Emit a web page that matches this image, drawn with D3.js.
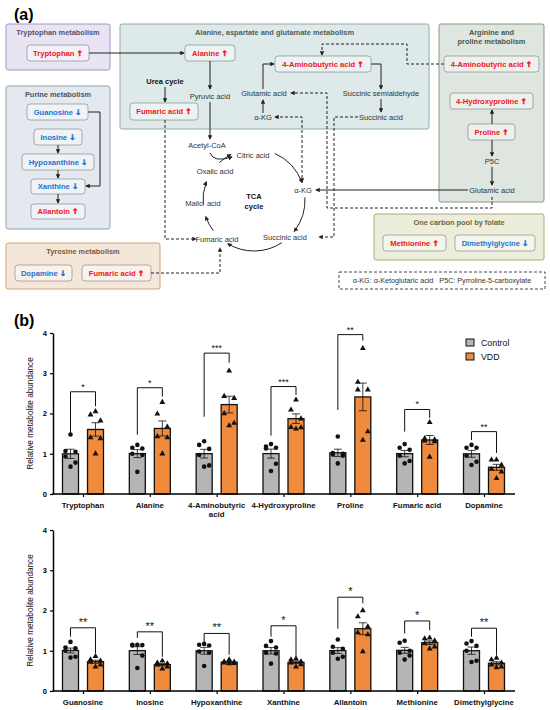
<!DOCTYPE html>
<html>
<head>
<meta charset="utf-8">
<script src="https://cdn.jsdelivr.net/npm/d3@7"></script>
<style>
body { margin: 0; background: #fff; }
text { font-family: "Liberation Sans", Arial, sans-serif; }
</style>
</head>
<body>
<svg id="fig" width="550" height="710"></svg>
<script>
// ---- panel (b) data: six animals per group ----
var categoriesTop = ["Tryptophan", "Alanine", "4-Aminobutyric acid", "4-Hydroxyproline", "Proline", "Fumaric acid", "Dopamine"];
var controlTop = [
  [1.48, 1.07, 1.05, 0.93, 0.78, 0.68],
  [1.22, 1.15, 1.13, 1.00, 0.97, 0.55],
  [1.31, 1.22, 1.12, 0.97, 0.71, 0.68],
  [1.24, 1.18, 1.15, 1.13, 0.75, 0.57],
  [1.43, 1.02, 1.00, 0.98, 0.95, 0.76],
  [1.24, 1.15, 1.10, 0.95, 0.82, 0.76],
  [1.22, 1.15, 1.15, 0.95, 0.80, 0.72]
];
var vddTop = [
  [2.05, 1.97, 1.82, 1.40, 1.38, 1.00],
  [2.28, 1.99, 1.67, 1.43, 1.40, 1.00],
  [3.06, 2.43, 2.38, 2.00, 1.76, 1.70],
  [2.34, 2.09, 1.87, 1.66, 1.65, 1.62],
  [3.62, 2.78, 2.59, 2.59, 1.55, 1.34],
  [1.78, 1.38, 1.35, 1.32, 1.30, 0.92],
  [0.85, 0.85, 0.72, 0.62, 0.55, 0.39]
];
var sigTop = ["*", "*", "***", "***", "**", "*", "**"];
// bracket: left foot, top, right foot (in data units)
var bracketTop = [
  [1.47, 2.54, 2.18], [1.47, 2.64, 2.42], [1.92, 3.50, 3.26], [1.45, 2.67, 2.46],
  [2.09, 3.96, 3.81], [1.55, 2.10, 1.89], [1.34, 1.55, 1.02]
];

var categoriesBot = ["Guanosine", "Inosine", "Hypoxanthine", "Xanthine", "Allantoin", "Methionine", "Dimethylglycine"];
var controlBot = [
  [1.22, 1.08, 1.06, 1.00, 0.85, 0.83],
  [1.15, 1.15, 1.14, 1.13, 0.88, 0.57],
  [1.17, 1.15, 1.13, 0.98, 0.95, 0.62],
  [1.24, 1.12, 1.08, 0.95, 0.93, 0.68],
  [1.28, 1.10, 1.05, 0.95, 0.85, 0.80],
  [1.25, 1.20, 1.00, 0.95, 0.88, 0.78],
  [1.24, 1.18, 1.12, 1.00, 0.75, 0.72]
];
var vddBot = [
  [0.86, 0.78, 0.75, 0.72, 0.65, 0.60],
  [0.75, 0.70, 0.68, 0.65, 0.60, 0.55],
  [0.78, 0.73, 0.72, 0.70, 0.69, 0.68],
  [0.80, 0.78, 0.73, 0.70, 0.66, 0.60],
  [2.00, 1.85, 1.60, 1.45, 1.40, 0.98],
  [1.32, 1.30, 1.25, 1.18, 1.10, 1.05],
  [0.82, 0.78, 0.70, 0.65, 0.60, 0.58]
];
var sigBot = ["**", "**", "**", "*", "*", "*", "**"];
var bracketBot = [
  [1.35, 1.57, 0.94], [1.32, 1.47, 0.85], [1.22, 1.43, 0.90], [1.35, 1.62, 0.85],
  [1.55, 2.33, 2.18], [1.43, 1.74, 1.51], [1.35, 1.56, 0.90]
];
var yTicks = [0, 1, 2, 3, 4];
var groups = ["Control", "VDD"];

// ---- panel (a) layout ----
var panels = [
  {x: 6, y: 24, w: 104, h: 46, fill: "#e9e4f3", stroke: "#a197c4", tc: "#57516f", title: ["Tryptophan metabolism"]},
  {x: 120, y: 24, w: 309, h: 105, fill: "#dee9e9", stroke: "#93aaaa", tc: "#4a6262", title: ["Alanine, aspartate and glutamate metabolism"]},
  {x: 6, y: 86, w: 104, h: 143, fill: "#e3e9ee", stroke: "#95a3ad", tc: "#4c5660", title: ["Purine metabolism"]},
  {x: 439, y: 24, w: 105, h: 178, fill: "#dfe6df", stroke: "#899889", tc: "#4b584b", title: ["Arginine and", "proline metabolism"]},
  {x: 374, y: 214, w: 170, h: 46, fill: "#ecedda", stroke: "#a9aa7c", tc: "#6a6b38", title: ["One carbon pool by folate"]},
  {x: 6, y: 243, w: 154, h: 46, fill: "#f4e6d9", stroke: "#cba583", tc: "#7b5b41", title: ["Tyrosine metabolism"]}
];
var metabolites = [
  {x: 27, y: 45, w: 62, h: 16, name: "Tryptophan", up: true},
  {x: 185, y: 45, w: 50, h: 16, name: "Alanine", up: true},
  {x: 130, y: 103, w: 68, h: 17, name: "Fumaric acid", up: true},
  {x: 275, y: 56, w: 96, h: 16, name: "4-Aminobutyric acid", up: true},
  {x: 444, y: 56, w: 95, h: 16, name: "4-Aminobutyric acid", up: true},
  {x: 450, y: 93, w: 83, h: 16, name: "4-Hydroxyproline", up: true},
  {x: 468, y: 124, w: 47, h: 16, name: "Proline", up: true},
  {x: 27, y: 104, w: 61, h: 16, name: "Guanosine", up: false},
  {x: 34, y: 129, w: 48, h: 16, name: "Inosine", up: false},
  {x: 22, y: 154, w: 72, h: 16, name: "Hypoxanthine", up: false},
  {x: 31, y: 179, w: 54, h: 15, name: "Xanthine", up: false},
  {x: 31, y: 204, w: 54, h: 15, name: "Allantoin", up: true},
  {x: 383, y: 235, w: 63, h: 16, name: "Methionine", up: true},
  {x: 455, y: 235, w: 80, h: 16, name: "Dimethylglycine", up: false},
  {x: 15, y: 265, w: 57, h: 16, name: "Dopamine", up: false},
  {x: 82, y: 265, w: 69, h: 16, name: "Fumaric acid", up: true}
];
var labels = [
  {x: 165, y: 84, t: "Urea cycle", b: true},
  {x: 210, y: 99, t: "Pyruvic acid"},
  {x: 264, y: 96, t: "Glutamic acid"},
  {x: 263, y: 120, t: "α-KG"},
  {x: 381, y: 96, t: "Succinic semialdehyde"},
  {x: 381, y: 120, t: "Succinic acid"},
  {x: 207, y: 148, t: "Acetyl-CoA"},
  {x: 253, y: 158, t: "Citric acid"},
  {x: 215, y: 174, t: "Oxalic acid"},
  {x: 203, y: 206, t: "Malic  acid"},
  {x: 303, y: 193, t: "α-KG"},
  {x: 285, y: 240, t: "Succinic acid"},
  {x: 217, y: 242, t: "Fumaric acid"},
  {x: 254, y: 199, t: "TCA", b: true},
  {x: 254, y: 209, t: "cycle", b: true},
  {x: 492, y: 164, t: "P5C"},
  {x: 492, y: 193, t: "Glutamic acid"}
];
var solidLinks = [
  [[89, 53], [184, 53]],
  [[210, 61], [210, 89]],
  [[210, 102], [210, 139]],
  [[165, 87], [165, 102]],
  [[263, 89], [263, 64], [274, 64]],
  [[263, 113], [263, 100]],
  [[371, 64], [381, 64], [381, 89]],
  [[381, 99], [381, 112]],
  [[88, 112], [100, 112], [100, 186], [86, 186]],
  [[58, 145], [58, 153]],
  [[58, 170], [58, 178]],
  [[58, 194], [58, 203]],
  [[492, 124], [492, 110]],
  [[492, 140], [492, 156]],
  [[492, 167], [492, 185]],
  [[468, 190], [316, 190]]
];
var dashedLinks = [
  {p: [[165, 120], [165, 239], [196, 239]]},
  {p: [[444, 64], [407, 64], [407, 44], [322, 44], [322, 55]]},
  {p: [[492, 197], [492, 208], [327, 208], [327, 93], [291, 93]]},
  {p: [[275, 117], [302, 117], [302, 182]], both: true},
  {p: [[358, 117], [334, 117], [334, 237], [319, 237]]},
  {p: [[151, 273], [220, 273], [220, 248]]}
];
// TCA cycle arcs, degrees on a circle
var tcaArcs = [[-66, -20], [-3, 38], [57, 121], [143, 161], [174, 201], [227, 243]];

var svg = d3.select("#fig");
var defs = svg.append("defs");
defs.append("marker").attr("id", "arr")
  .attr("viewBox", "0 0 6 6").attr("refX", 5).attr("refY", 3)
  .attr("markerWidth", 4.5).attr("markerHeight", 4.5)
  .attr("orient", "auto-start-reverse")
  .append("path").attr("d", "M0,0L6,3L0,6z").attr("fill", "#222");

// ================= panel (a) =================
svg.append("text").attr("x", 14).attr("y", 20).attr("font-size", 16).attr("font-weight", "bold").text("(a)");

var gA = svg.append("g");
panels.forEach(function(p) {
  gA.append("rect").attr("x", p.x).attr("y", p.y).attr("width", p.w).attr("height", p.h)
    .attr("rx", 2).attr("fill", p.fill).attr("stroke", p.stroke).attr("stroke-width", 1);
  p.title.forEach(function(t, i) {
    gA.append("text").attr("x", p.x + p.w / 2).attr("y", p.y + 11 + i * 9)
      .attr("text-anchor", "middle").attr("font-size", 7.4).attr("font-weight", "bold")
      .attr("fill", p.tc).text(t);
  });
});

// abbreviation box
gA.append("rect").attr("x", 339).attr("y", 272).attr("width", 206).attr("height", 17)
  .attr("fill", "none").attr("stroke", "#333").attr("stroke-dasharray", "3,2").attr("stroke-width", 0.9);
gA.append("text").attr("x", 442).attr("y", 283).attr("text-anchor", "middle")
  .attr("font-size", 7.2).attr("fill", "#333").style("white-space", "pre")
  .text("α-KG: α-Ketoglutaric acid   P5C: Pyrroline-5-carboxylate");

var line = d3.line();
solidLinks.forEach(function(p) {
  gA.append("path").attr("d", line(p)).attr("fill", "none").attr("stroke", "#222")
    .attr("stroke-width", 1).attr("marker-end", "url(#arr)");
});
dashedLinks.forEach(function(l) {
  var path = gA.append("path").attr("d", line(l.p)).attr("fill", "none").attr("stroke", "#222")
    .attr("stroke-width", 1).attr("stroke-dasharray", "3,2").attr("marker-end", "url(#arr)");
  if (l.both) path.attr("marker-start", "url(#arr)");
});

// TCA cycle
var cx = 254, cy = 200, r = 51;
tcaArcs.forEach(function(a) {
  var a0 = a[0] * Math.PI / 180, a1 = a[1] * Math.PI / 180;
  var d = "M" + (cx + r * Math.cos(a0)) + "," + (cy + r * Math.sin(a0)) +
    " A" + r + "," + r + " 0 0 1 " + (cx + r * Math.cos(a1)) + "," + (cy + r * Math.sin(a1));
  gA.append("path").attr("d", d).attr("fill", "none").attr("stroke", "#222")
    .attr("stroke-width", 1).attr("marker-end", "url(#arr)");
});
gA.append("path").attr("d", "M210,153 Q214,163 232,157").attr("fill", "none").attr("stroke", "#222")
  .attr("stroke-width", 1).attr("marker-end", "url(#arr)");

metabolites.forEach(function(m) {
  gA.append("rect").attr("x", m.x).attr("y", m.y).attr("width", m.w).attr("height", m.h)
    .attr("rx", 3).attr("fill", "rgba(255,255,255,0.45)").attr("stroke", "rgba(60,70,80,0.45)").attr("stroke-width", 0.9);
  var t = gA.append("text").attr("x", m.x + m.w / 2).attr("y", m.y + m.h / 2 + 2.7)
    .attr("text-anchor", "middle").attr("font-size", 7.6).attr("font-weight", "bold")
    .attr("fill", m.up ? "#f0141e" : "#1c74cc");
  t.append("tspan").text(m.name + " ");
  t.append("tspan").attr("font-family", "DejaVu Sans").attr("font-size", 7.6)
    .attr("stroke", m.up ? "#f0141e" : "#1c74cc").attr("stroke-width", 0.5)
    .text(m.up ? "↑" : "↓");
});

labels.forEach(function(l) {
  gA.append("text").attr("x", l.x).attr("y", l.y).attr("text-anchor", "middle")
    .attr("font-size", 7.5).attr("font-weight", l.b ? "bold" : "normal")
    .attr("fill", l.b ? "#111" : "#333").style("white-space", "pre").text(l.t);
});

// ================= panel (b) =================
svg.append("text").attr("x", 14).attr("y", 326).attr("font-size", 16).attr("font-weight", "bold").text("(b)");

var colors = {Control: "#b5b5b5", VDD: "#f08a3c"};
var jitter = [0, -5, 5, -5, 5, 0];

function drawChart(y0, cats, ctrl, vdd, sig, brk, starSize) {
  var g = svg.append("g");
  var x = d3.scalePoint().domain(cats).range([83, 484]);
  var y = d3.scaleLinear().domain([0, 4]).range([y0, y0 - 161]);
  var bw = 16, off = 12.5;

  cats.forEach(function(c, i) {
    var sets = [ctrl[i], vdd[i]];
    sets.forEach(function(vals, k) {
      var xc = x(c) + (k === 0 ? -off : off);
      var m = d3.mean(vals), se = d3.deviation(vals) / Math.sqrt(vals.length);
      g.append("rect").attr("x", xc - bw / 2).attr("y", y(m)).attr("width", bw)
        .attr("height", y(0) - y(m)).attr("fill", colors[groups[k]])
        .attr("stroke", "#111").attr("stroke-width", 1.3);
      g.append("line").attr("x1", xc).attr("x2", xc).attr("y1", y(m - se)).attr("y2", y(m + se))
        .attr("stroke", "#111").attr("stroke-width", 0.8);
      [m - se, m + se].forEach(function(v) {
        g.append("line").attr("x1", xc - 4).attr("x2", xc + 4).attr("y1", y(v)).attr("y2", y(v))
          .attr("stroke", "#111").attr("stroke-width", 0.8);
      });
      vals.forEach(function(v, j) {
        var px = xc + jitter[j], py = y(v);
        if (k === 0) {
          g.append("circle").attr("cx", px).attr("cy", py).attr("r", 2.3).attr("fill", "#111");
        } else {
          g.append("path").attr("transform", "translate(" + px + "," + py + ")")
            .attr("d", d3.symbol(d3.symbolTriangle, 15)).attr("fill", "#111");
        }
      });
    });
    // significance bracket
    var b = brk[i], xl = x(c) - off, xr = x(c) + off;
    g.append("path").attr("d", line([[xl, y(b[0])], [xl, y(b[1])], [xr, y(b[1])], [xr, y(b[2])]]))
      .attr("fill", "none").attr("stroke", "#111").attr("stroke-width", 1);
    g.append("text").attr("x", x(c)).attr("y", y(b[1]) - 2).attr("text-anchor", "middle")
      .attr("font-size", starSize).attr("fill", "#111").text(sig[i]);
  });

  // axes
  var ya = g.append("g").attr("transform", "translate(53,0)")
    .call(d3.axisLeft(y).tickValues(yTicks).tickFormat(d3.format("d")).tickSize(3).tickSizeOuter(0));
  ya.select(".domain").attr("stroke-width", 1.5);
  ya.selectAll(".tick line").attr("stroke-width", 1.2);
  ya.selectAll(".tick text").attr("font-size", 7.5).attr("font-weight", "bold")
    .attr("font-family", "Liberation Sans, Arial, sans-serif");

  var xa = g.append("g").attr("transform", "translate(0," + y0 + ")")
    .call(d3.axisBottom(x).tickSize(3).tickSizeOuter(0));
  xa.select(".domain").remove();
  xa.selectAll(".tick line").attr("stroke-width", 1.2);
  xa.selectAll(".tick text").remove();
  g.append("line").attr("x1", 52.25).attr("x2", 515).attr("y1", y0).attr("y2", y0)
    .attr("stroke", "#000").attr("stroke-width", 1.5);

  cats.forEach(function(c) {
    var parts = c.length > 16 ? [c.slice(0, c.lastIndexOf(" ")), c.slice(c.lastIndexOf(" ") + 1)] : [c];
    parts.forEach(function(t, i) {
      g.append("text").attr("x", x(c)).attr("y", y0 + 14 + i * 9).attr("text-anchor", "middle")
        .attr("font-size", 7.8).attr("font-weight", "bold").attr("fill", "#111").text(t);
    });
  });

  g.append("text").attr("transform", "translate(33," + (y0 - 80.5) + ") rotate(-90)")
    .attr("text-anchor", "middle").attr("font-size", 8.2).attr("fill", "#111")
    .text("Relative metabolite abundance");
  return g;
}

drawChart(494, categoriesTop, controlTop, vddTop, sigTop, bracketTop, 9);
drawChart(691, categoriesBot, controlBot, vddBot, sigBot, bracketBot, 11);

// legend
groups.forEach(function(gname, i) {
  svg.append("rect").attr("x", 466).attr("y", 339 + i * 14).attr("width", 8).attr("height", 7)
    .attr("fill", colors[gname]).attr("stroke", "#111").attr("stroke-width", 1);
  svg.append("text").attr("x", 481).attr("y", 346 + i * 14).attr("font-size", 8.8).attr("fill", "#111").text(gname);
});
</script>
</body>
</html>
